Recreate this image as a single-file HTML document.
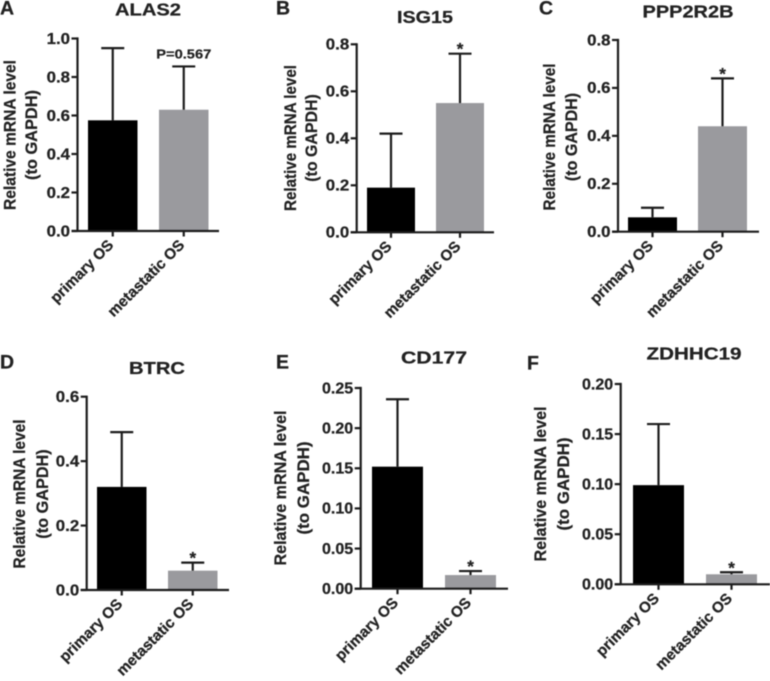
<!DOCTYPE html>
<html lang="en">
<head>
<meta charset="utf-8">
<title>Relative mRNA level panels</title>
<style>
html,body{margin:0;padding:0;background:#fff;width:770px;height:681px;overflow:hidden}
svg{display:block;filter:blur(.5px)}
text{font-family:"Liberation Sans",Arial,sans-serif;font-weight:bold;fill:#222;stroke:#222;stroke-width:.25px}
</style>
</head>
<body>
<svg id="figure" xmlns="http://www.w3.org/2000/svg" width="770" height="681" viewBox="0 0 770 681"></svg>
<script>
const categories = ['primary OS', 'metastatic OS'];

const alas2Means = [0.575, 0.63];
const alas2Errors = [0.95, 0.855];
const alas2Ticks = ['0.0', '0.2', '0.4', '0.6', '0.8', '1.0'];

const isg15Means = [0.19, 0.55];
const isg15Errors = [0.42, 0.76];
const isg15Ticks = ['0.0', '0.2', '0.4', '0.6', '0.8'];

const ppp2r2bMeans = [0.06, 0.44];
const ppp2r2bErrors = [0.10, 0.64];
const ppp2r2bTicks = ['0.0', '0.2', '0.4', '0.6', '0.8'];

const btrcMeans = [0.32, 0.06];
const btrcErrors = [0.49, 0.085];
const btrcTicks = ['0.0', '0.2', '0.4', '0.6'];

const cd177Means = [0.152, 0.017];
const cd177Errors = [0.236, 0.022];
const cd177Ticks = ['0.00', '0.05', '0.10', '0.15', '0.20', '0.25'];

const zdhhc19Means = [0.099, 0.01];
const zdhhc19Errors = [0.16, 0.012];
const zdhhc19Ticks = ['0.00', '0.05', '0.10', '0.15', '0.20'];

const panels = [
  {id:'alas2', letter:'A', title:'ALAS2', means:alas2Means, errors:alas2Errors, ticks:alas2Ticks, note:'P=0.567',
   ax:77.5, y0:231, top:38.5, xEnd:219, bars:[88,159], barW:49.5,
   lx:0, ly:14.5, tx:148, ty:15.5, tw:66, yl1:15.5, yl2:37, ylc:135, ylw:150},
  {id:'isg15', letter:'B', title:'ISG15', means:isg15Means, errors:isg15Errors, ticks:isg15Ticks, note:'*',
   ax:356.7, y0:232.3, top:44.3, xEnd:494, bars:[367,436], barW:48,
   lx:276, ly:14.5, tx:425, ty:23, tw:56, yl1:296, yl2:317, ylc:138, ylw:146},
  {id:'ppp2r2b', letter:'C', title:'PPP2R2B', means:ppp2r2bMeans, errors:ppp2r2bErrors, ticks:ppp2r2bTicks, note:'*',
   ax:618, y0:231.7, top:40, xEnd:759, bars:[628,698], barW:49,
   lx:539, ly:14.5, tx:688, ty:17.5, tw:91, yl1:555, yl2:577, ylc:137, ylw:147},
  {id:'btrc', letter:'D', title:'BTRC', means:btrcMeans, errors:btrcErrors, ticks:btrcTicks, note:'*',
   ax:86.7, y0:590, top:396.7, xEnd:229, bars:[97,168], barW:49.5,
   lx:0, ly:368.5, tx:157, ty:374, tw:56, yl1:25, yl2:48, ylc:494, ylw:149},
  {id:'cd177', letter:'E', title:'CD177', means:cd177Means, errors:cd177Errors, ticks:cd177Ticks, note:'*',
   ax:360.7, y0:588.7, top:388, xEnd:508, bars:[372,445], barW:51,
   lx:276, ly:368.5, tx:434, ty:363.5, tw:66, yl1:286, yl2:309, ylc:488, ylw:155},
  {id:'zdhhc19', letter:'F', title:'ZDHHC19', means:zdhhc19Means, errors:zdhhc19Errors, ticks:zdhhc19Ticks, note:'*',
   ax:620.7, y0:584.3, top:384, xEnd:770, bars:[633,706], barW:51,
   lx:527, ly:369.5, tx:694, ty:359.5, tw:95, yl1:546, yl2:569, ylc:484, ylw:155}
];

const NS = 'http://www.w3.org/2000/svg';
const root = document.getElementById('figure');
const INK = '#1c1c1c';
const BAR_FILLS = ['#000000', '#9a9a9e'];

function make(tag, attrs, parent, content) {
  const el = document.createElementNS(NS, tag);
  for (const k in attrs) el.setAttribute(k, attrs[k]);
  if (content !== undefined) el.textContent = content;
  parent.appendChild(el);
  return el;
}

function line(parent, x1, y1, x2, y2) {
  return make('line', {x1:x1, y1:y1, x2:x2, y2:y2, stroke:INK, 'stroke-width':2.2}, parent);
}

panels.forEach(function (p) {
  const maxV = parseFloat(p.ticks[p.ticks.length - 1]);
  const yScale = function (v) { return p.y0 - (v / maxV) * (p.y0 - p.top); };
  const xCenter = function (i) { return p.bars[i] + p.barW / 2; };

  const g = make('g', {}, root);
  
  

  const letter = make('text', {x:p.lx, y:p.ly, 'font-size':19.5}, g, p.letter);
  
  

  const title = make('text', {x:p.tx, y:p.ty, 'font-size':17.5, 'text-anchor':'middle', textLength:p.tw, lengthAdjust:'spacingAndGlyphs'}, g, p.title);
  
  

  const yTitle1 = make('text', {transform:'translate(' + p.yl1 + ',' + p.ylc + ') rotate(-90)', 'font-size':17, 'text-anchor':'middle', textLength:p.ylw, lengthAdjust:'spacingAndGlyphs'}, g, 'Relative mRNA level');
  
  

  const yTitle2 = make('text', {transform:'translate(' + p.yl2 + ',' + p.ylc + ') rotate(-90)', 'font-size':17, 'text-anchor':'middle', textLength:p.ylw * 0.6, lengthAdjust:'spacingAndGlyphs'}, g, '(to GAPDH)');
  
  

  categories.forEach(function (cat, i) {
    const bar = make('rect', {x:p.bars[i], y:yScale(p.means[i]), width:p.barW, height:p.y0 - yScale(p.means[i]), fill:BAR_FILLS[i]}, g);
    
    

    const stem = line(g, xCenter(i), yScale(p.means[i]), xCenter(i), yScale(p.errors[i]));
    
    

    const cap = line(g, xCenter(i) - 11.5, yScale(p.errors[i]), xCenter(i) + 11.5, yScale(p.errors[i]));
    
    

    const xTick = line(g, xCenter(i), p.y0, xCenter(i), p.y0 + 5.5);
    
    

    const xLabel = make('text', {transform:'translate(' + (xCenter(i) + 1.5) + ',' + (p.y0 + 15) + ') rotate(-45)', 'font-size':15.2, 'text-anchor':'end'}, g, cat);
    
    
  });

  const yAxis = line(g, p.ax, p.top - 1.1, p.ax, p.y0);
  
  

  const xAxis = line(g, p.ax - 6, p.y0, p.xEnd, p.y0);
  
  

  p.ticks.forEach(function (label) {
    const v = parseFloat(label);
    const yTick = line(g, p.ax - 6, yScale(v), p.ax, yScale(v));
    
    

    const yLabel = make('text', {x:p.ax - 7.5, y:yScale(v) + 5.3, 'font-size':15.5, 'text-anchor':'end', textLength:label.length * 7.8, lengthAdjust:'spacingAndGlyphs'}, g, label);
    
    
  });

  const isStar = p.note === '*';
  const noteIndex = 1;
  const noteAttrs = {x:xCenter(noteIndex), y:yScale(p.errors[noteIndex]) + (isStar ? 1 : -8), 'font-size':isStar ? 17 : 13, 'text-anchor':'middle'};
  if (!isStar) {
    noteAttrs.textLength = 55;
    noteAttrs.lengthAdjust = 'spacingAndGlyphs';
  }
  const note = make('text', noteAttrs, g, p.note);
  
  
});
</script>
</body>
</html>
